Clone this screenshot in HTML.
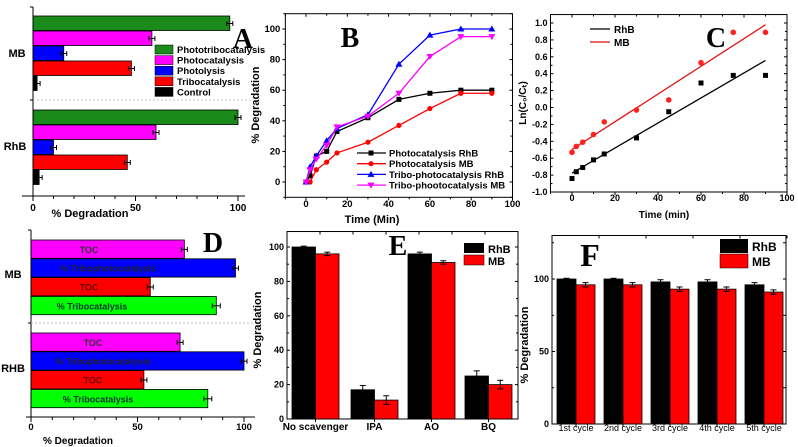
<!DOCTYPE html>
<html><head><meta charset="utf-8"><style>
html,body{margin:0;padding:0;background:#fff;width:798px;height:447px;overflow:hidden}
svg{display:block;font-family:"Liberation Sans",Arial,sans-serif;font-weight:bold}
</style></head><body>
<svg id="fig" width="798" height="447" viewBox="0 0 798 447" xmlns="http://www.w3.org/2000/svg"></svg>
<script>
// ---- Panel A data
const aGroups=['MB','RhB'];
const aSeries=['Phototribocatalysis','Photocatalysis','Photolysis','Tribocatalysis','Control'];
const aColors=['#1a8a1a','#ff00ff','#0000ff','#ff0000','#000000'];
const aMB=[96,58,15,48,2];
const aRhB=[100,60,10,46,3];
// ---- Panel B data
const bTime=[0,2,5,10,15,30,45,60,75,90];
const bPhotoRhB=[0,4,17,20,33,42,54,58,60,60];
const bPhotoMB=[0,0,8,13,19,26,37,48,58,58];
const bTriboRhB=[0,10,17,27,35,44,77,96,100,100];
const bTriboMB=[0,8,15,24,36,43,58,82,95,95];
const bNames=['Photocatalysis RhB','Photocatalysis MB','Tribo-photocatalysis RhB','Tribo-phootocatalysis MB'];
// ---- Panel C data
const cTime=[0,2,5,10,15,30,45,60,75,90];
const cRhB=[-0.84,-0.76,-0.71,-0.62,-0.55,-0.36,-0.05,0.29,0.38,0.38];
const cMB=[-0.53,-0.46,-0.41,-0.32,-0.17,-0.03,0.09,0.53,0.89,0.89];
// ---- Panel D data
const dLabels=['TOC','% Tribophotocatalysis','TOC','% Tribocatalysis'];
const dColors=['#ff00ff','#0000ff','#ff0000','#00ff00'];
const dMB=[72,96,56,87];
const dRHB=[70,100,53,83];
// ---- Panel E data
const eCats=['No scavenger','IPA','AO','BQ'];
const eRhB=[100,17,96,25];
const eMB=[96,11,91,20];
const eErrR=[0.5,2.5,1,3];
const eErrM=[1,2.5,1,2.5];
// ---- Panel F data
const fCats=['1st cycle','2nd cycle','3rd cycle','4th cycle','5th cycle'];
const fRhB=[100,100,98,98,96];
const fMB=[96,96,93,93,91];

const NS='http://www.w3.org/2000/svg';
const svg=document.getElementById('fig');
function el(tag,attrs,parent,text){const e=document.createElementNS(NS,tag);for(const k in attrs)e.setAttribute(k,attrs[k]);if(text!==undefined)e.textContent=text;(parent||svg).appendChild(e);return e;}
function grp(name){const g=el('g',{},svg);return g;}
function txt(g,x,y,s,size,anchor,extra){const t=el('text',Object.assign({x:x,y:y,'font-size':size,'text-anchor':anchor||'middle',fill:'#000'},extra||{}),g,s);return t;}
function line(g,x1,y1,x2,y2,st,w){return el('line',{x1,y1,x2,y2,stroke:st||'#000','stroke-width':w||1},g);}

// ============ Panel A ============
(function(){
const g=grp('panel-a');
const X=v=>33+v*2.05;
const groupTops=[16,110];const h=15;
const vals=[aMB,aRhB];
vals.forEach((arr,gi)=>{arr.forEach((v,i)=>{const y=groupTops[gi]+i*h;
 const r=el('rect',{x:X(0),y:y,width:X(v)-X(0),height:h-0.5,fill:aColors[i],stroke:'#000','stroke-width':0.8},g);
 
 const ex=X(v),cy=y+h/2;line(g,ex-3,cy,ex+3,cy);line(g,ex-3,cy-2.5,ex-3,cy+2.5);line(g,ex+3,cy-2.5,ex+3,cy+2.5);});});
line(g,33,7,33,196);line(g,22,196,245,196);
for(let v=0;v<=100;v+=10){line(g,X(v),196,X(v),v%50?199:201);}
[0,50,100].forEach(v=>txt(g,X(v),211,String(v),10));
txt(g,90,217,'% Degradation',11);
line(g,30,7,33,7);line(g,30,100,33,100);
line(g,33,100,250,100,'#aaa',0.8).setAttribute('stroke-dasharray','2,2');
txt(g,17,57,'MB',11);txt(g,15,150,'RhB',11);
aSeries.forEach((s,i)=>{const y=45+i*10.6;el('rect',{x:155,y:y,width:18,height:9,fill:aColors[i],stroke:'#000','stroke-width':0.5},g);txt(g,177,y+8,s,9.5,'start');});
txt(g,243,48,'A',28,'middle',{'font-family':'Liberation Serif,serif'});
})();

// ============ Panel B ============
(function(){
const g=grp('panel-b');
const X=v=>306+v*2.065, Y=v=>182-v*1.53;
el('rect',{x:X(-10),y:Y(110),width:X(100)-X(-10),height:Y(-10)-Y(110),fill:'none',stroke:'#000'},g);
for(let v=-10;v<=100;v+=10){line(g,X(v),Y(-10),X(v),Y(-10)+(v%20?2:3));line(g,X(v),Y(110),X(v),Y(110)+(v%20?2:3));}
for(let v=-10;v<=110;v+=10){line(g,X(-10),Y(v),X(-10)-(v%20?2:3),Y(v));line(g,X(100),Y(v),X(100)-(v%20?2:3),Y(v));}
for(let v=0;v<=100;v+=20){txt(g,X(v),207,String(v),9.5);}
for(let v=0;v<=100;v+=20){txt(g,X(-10)-5,Y(v)+3,String(v),9.5,'end');}
txt(g,372,223,'Time (Min)',11);
txt(g,259,105,'% Degradation',11,'middle',{transform:'rotate(-90 259 105)'});
const series=[bPhotoRhB,bPhotoMB,bTriboRhB,bTriboMB];const cols=['#000','#ff0000','#0000ff','#ff00ff'];
series.forEach((s,si)=>{const pts=bTime.map((t,i)=>X(t)+','+Y(s[i])).join(' ');
 const pl=el('polyline',{points:pts,fill:'none',stroke:cols[si],'stroke-width':1.3},g);
 bTime.forEach((t,i)=>{const x=X(t),y=Y(s[i]);
  if(si<2)el(si==0?'rect':'circle',si==0?{x:x-2.5,y:y-2.5,width:5,height:5,fill:cols[si]}:{cx:x,cy:y,r:2.6,fill:cols[si]},g);
  else if(si==2)el('polygon',{points:`${x},${y-3.5} ${x-3.5},${y+2.5} ${x+3.5},${y+2.5}`,fill:cols[si]},g);
  else el('polygon',{points:`${x},${y+3.5} ${x-3.5},${y-2.5} ${x+3.5},${y-2.5}`,fill:cols[si]},g);});
 const ly=153+si*10.7;line(g,357,ly,386,ly,cols[si],1.3);
 const mx=371;if(si==0)el('rect',{x:mx-2.5,y:ly-2.5,width:5,height:5,fill:cols[si]},g);else if(si==1)el('circle',{cx:mx,cy:ly,r:2.6,fill:cols[si]},g);else if(si==2)el('polygon',{points:`${mx},${ly-3.5} ${mx-3.5},${ly+2.5} ${mx+3.5},${ly+2.5}`,fill:cols[si]},g);else el('polygon',{points:`${mx},${ly+3.5} ${mx-3.5},${ly-2.5} ${mx+3.5},${ly-2.5}`,fill:cols[si]},g);
 txt(g,389,ly+3.5,bNames[si],9.5,'start');});
txt(g,350,47,'B',28,'middle',{'font-family':'Liberation Serif,serif'});
})();

// ============ Panel C ============
(function(){
const g=grp('panel-c');
const X=v=>572+v*2.15, Y=v=>107.5-v*84.5;
el('rect',{x:X(-10),y:Y(1.1),width:X(100)-X(-10),height:Y(-1)-Y(1.1),fill:'none',stroke:'#000'},g);
for(let v=-10;v<=100;v+=10){line(g,X(v),Y(-1),X(v),Y(-1)+(v%20?2:3));line(g,X(v),Y(1.1),X(v),Y(1.1)+(v%20?2:3));}
for(let k=-10;k<=10;k++){const v=k/10;line(g,X(-10),Y(v),X(-10)+(k%2?2:3),Y(v));line(g,X(100),Y(v),X(100)-(k%2?2:3),Y(v));}
for(let v=0;v<=100;v+=20)txt(g,X(v),201,String(v),9);
for(let k=-10;k<=10;k+=2)txt(g,X(-10)-3,Y(k/10)+3,(k/10).toFixed(1),9,'end');
txt(g,664,218,'Time (min)',10);
el('text',{x:526,y:103,'font-size':10,'text-anchor':'middle',transform:'rotate(-90 526 103)'},g,'Ln(C\u2080/C\u209c)');
function fit(xs,ys){const n=xs.length;let sx=0,sy=0,sxy=0,sxx=0;for(let i=0;i<n;i++){sx+=xs[i];sy+=ys[i];sxy+=xs[i]*ys[i];sxx+=xs[i]*xs[i];}const b=(n*sxy-sx*sy)/(n*sxx-sx*sx);return [(sy-b*sx)/n,b];}
[[cRhB,'#000'],[cMB,'#e01010']].forEach(([d,c],si)=>{const [a,b]=fit(cTime,d);
 const l=line(g,X(0),Y(a),X(90),Y(a+b*90),c,1.3);
 cTime.forEach((t,i)=>{if(si==0)el('rect',{x:X(t)-2.5,y:Y(d[i])-2.5,width:5,height:5,fill:c},g);else el('circle',{cx:X(t),cy:Y(d[i]),r:2.8,fill:'#ff2020'},g);});});
line(g,590,29,610,29,'#000',1.3);txt(g,614,33,'RhB',10,'start');
line(g,590,42,610,42,'#e01010',1.3);txt(g,614,46,'MB',10,'start');
txt(g,716,47,'C',28,'middle',{'font-family':'Liberation Serif,serif'});
})();

// ============ Panel D ============
(function(){
const g=grp('panel-d');
const X=v=>31+v*2.13;
const tops=[240,333];const h=18.8;
[dMB,dRHB].forEach((arr,gi)=>arr.forEach((v,i)=>{const y=tops[gi]+i*h;
 const r=el('rect',{x:X(0),y:y,width:X(v)-X(0),height:h-0.5,fill:dColors[i],stroke:'#000','stroke-width':0.8},g);
 const ex=X(v),cy=y+h/2,e=i==3?4:3;line(g,ex-e,cy,ex+e,cy);line(g,ex-e,cy-2.5,ex-e,cy+2.5);line(g,ex+e,cy-2.5,ex+e,cy+2.5);
 const tc=i==0?'#333':(i==1?'#222':(i==2?'#600':'#033'));
 txt(g,i==1?(gi?103:108):(i==3?(gi?98:92):(gi?93:89)),cy+3.5,dLabels[i],9,'middle',{fill:tc});}));
line(g,31,230,31,417);line(g,26,417,255,417);
for(let v=0;v<=100;v+=10)line(g,X(v),417,X(v),v%50?420:422);
[0,50,100].forEach(v=>txt(g,X(v),430,String(v),9.5));
txt(g,78,444,'% Degradation',10);
line(g,28,230,31,230);line(g,28,323,31,323);
line(g,31,323,255,323,'#aaa',0.8).setAttribute('stroke-dasharray','2,2');
txt(g,13,278,'MB',11);txt(g,13,372,'RHB',11);
txt(g,213,252,'D',28,'middle',{'font-family':'Liberation Serif,serif'});
})();

// ============ Panel E ============
(function(){
const g=grp('panel-e');
const Y=v=>419-v*1.72;const x0=287,x1=518;
el('rect',{x:x0,y:Y(109),width:x1-x0,height:Y(0)-Y(109),fill:'none',stroke:'#000'},g);
const starts=[292,351,408,465];const bw=23.5;
eCats.forEach((c,i)=>{[[eRhB,'#000',eErrR],[eMB,'#ff0000',eErrM]].forEach(([d,col,er],k)=>{const x=starts[i]+k*bw;
 const r=el('rect',{x:x,y:Y(d[i]),width:bw,height:Y(0)-Y(d[i]),fill:col,stroke:'#000','stroke-width':0.8},g);
 const cx=x+bw/2;line(g,cx,Y(d[i]+er[i]),cx,Y(d[i]-er[i]));line(g,cx-3,Y(d[i]+er[i]),cx+3,Y(d[i]+er[i]));line(g,cx-3,Y(d[i]-er[i]),cx+3,Y(d[i]-er[i]));});
 txt(g,starts[i]+bw,430,c,10);
 line(g,starts[i]+bw,Y(0),starts[i]+bw,Y(0)+3);});
for(let v=0;v<=100;v+=10){line(g,x0,Y(v),x0+(v%20?2:3),Y(v));line(g,x1,Y(v),x1-(v%20?2:3),Y(v));}
for(let v=0;v<=100;v+=20)txt(g,x0-3,Y(v)+3,String(v),9,'end');
for(let i=0;i<8;i++)line(g,x0+i*33,Y(109),x0+i*33,Y(109)+3);
el('text',{x:261,y:330,'font-size':11,'text-anchor':'middle',transform:'rotate(-90 261 330)'},g,'% Degradation');
el('rect',{x:464,y:243,width:20,height:10,fill:'#000'},g);txt(g,488,253,'RhB',11,'start');
el('rect',{x:464,y:255,width:20,height:10,fill:'#ff0000',stroke:'#000','stroke-width':0.5},g);txt(g,488,265,'MB',11,'start');
txt(g,398,255,'E',28,'middle',{'font-family':'Liberation Serif,serif'});
})();

// ============ Panel F ============
(function(){
const g=grp('panel-f');
const Y=v=>424-v*1.45;const x0=552,x1=786;
el('rect',{x:x0,y:Y(130),width:x1-x0,height:Y(0)-Y(130),fill:'none',stroke:'#000'},g);
const bw=19;
fCats.forEach((c,i)=>{const sx=557+i*47;[[fRhB,'#000'],[fMB,'#ff0000']].forEach(([d,col],k)=>{const x=sx+k*bw;
 const r=el('rect',{x:x,y:Y(d[i]),width:bw,height:Y(0)-Y(d[i]),fill:col,stroke:'#000','stroke-width':0.8},g);
 const cx=x+bw/2,er=k?1.5:(i<2?0.5:1.5);line(g,cx,Y(d[i]+er),cx,Y(d[i]-er));line(g,cx-3,Y(d[i]+er),cx+3,Y(d[i]+er));line(g,cx-3,Y(d[i]-er),cx+3,Y(d[i]-er));});
 txt(g,sx+bw,431,c,9,'middle',{'font-weight':'normal'});
 line(g,sx+bw,Y(0),sx+bw,Y(0)+3);});
for(let v=0;v<=125;v+=25){line(g,x0,Y(v),x0+(v%50?2:3),Y(v));line(g,x1,Y(v),x1-3,Y(v));}
[0,50,100].forEach(v=>txt(g,x0-3,Y(v)+3,String(v),9,'end'));
for(let i=0;i<6;i++)line(g,x0+i*47,Y(130),x0+i*47,Y(130)+3);
el('text',{x:528,y:345,'font-size':11,'text-anchor':'middle',transform:'rotate(-90 528 345)'},g,'% Degradation');
el('rect',{x:720,y:239,width:28,height:14,fill:'#000'},g);txt(g,752,251,'RhB',12,'start');
el('rect',{x:720,y:254,width:28,height:14,fill:'#ff0000',stroke:'#000','stroke-width':0.5},g);txt(g,752,266,'MB',12,'start');
txt(g,590,266,'F',32,'middle',{'font-family':'Liberation Serif,serif'});
})();
</script>
</body></html>
